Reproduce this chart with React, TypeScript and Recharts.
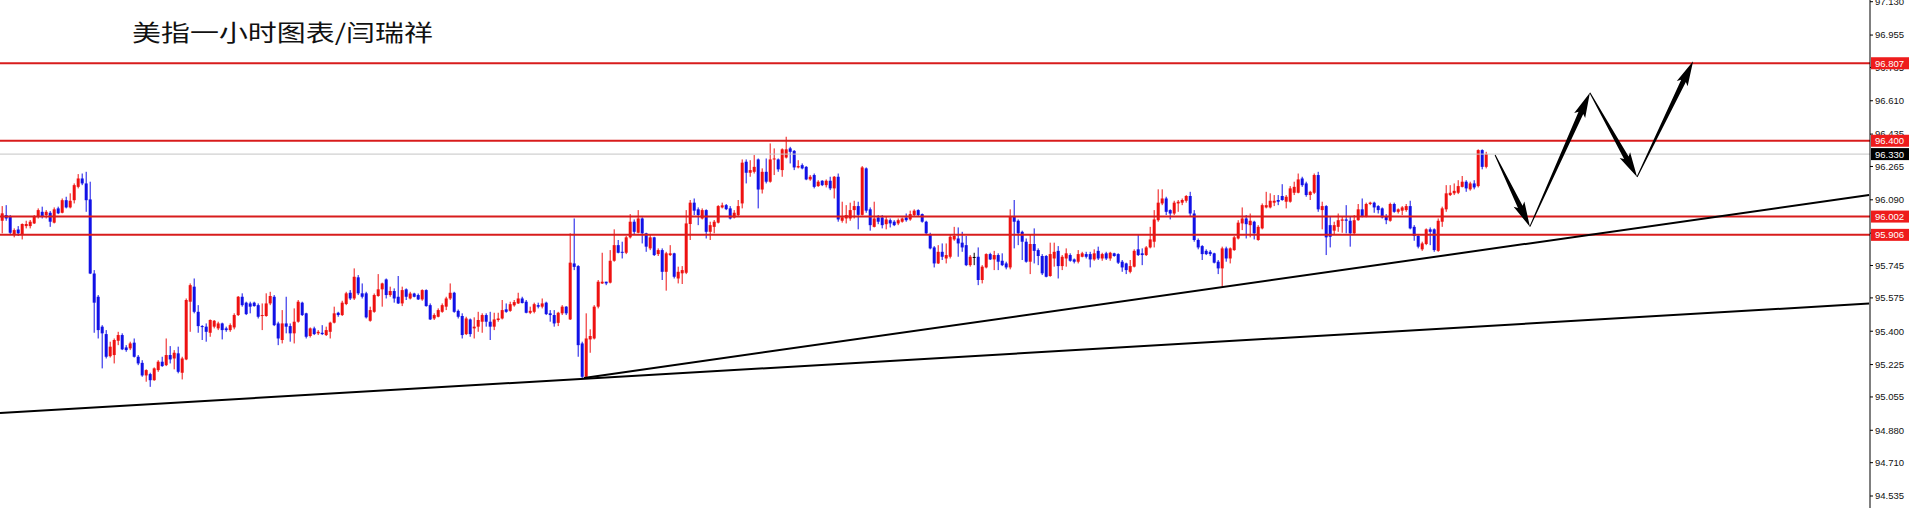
import React from "react";
import { ComposedChart, Bar, XAxis, YAxis, ReferenceLine } from "recharts";

// hourly candles (price units)
const opens = [
  95.980, 96.010, 96.004, 95.910, 95.934, 95.905, 95.952, 95.952, 95.966, 96.001,
  96.027, 96.010, 96.022, 95.970, 96.045, 96.022, 96.088, 96.050, 96.088, 96.158,
  96.202, 96.176, 96.092, 95.703, 95.581, 95.424, 95.385, 95.269, 95.275, 95.350,
  95.380, 95.315, 95.310, 95.340, 95.266, 95.234, 95.168, 95.175, 95.143, 95.196,
  95.240, 95.222, 95.275, 95.257, 95.284, 95.182, 95.252, 95.555, 95.634, 95.502,
  95.427, 95.424, 95.392, 95.424, 95.415, 95.441, 95.415, 95.406, 95.420, 95.485,
  95.581, 95.550, 95.546, 95.550, 95.537, 95.480, 95.480, 95.546, 95.581, 95.441,
  95.354, 95.441, 95.427, 95.389, 95.450, 95.550, 95.494, 95.375, 95.415, 95.389,
  95.392, 95.380, 95.397, 95.445, 95.497, 95.485, 95.543, 95.602, 95.572, 95.683,
  95.599, 95.599, 95.455, 95.502, 95.585, 95.620, 95.672, 95.590, 95.611, 95.581,
  95.546, 95.620, 95.572, 95.598, 95.590, 95.567, 95.616, 95.537, 95.467, 95.476,
  95.502, 95.529, 95.572, 95.602, 95.507, 95.480, 95.385, 95.462, 95.415, 95.424,
  95.450, 95.485, 95.450, 95.424, 95.459, 95.467, 95.515, 95.507, 95.536, 95.546,
  95.572, 95.555, 95.497, 95.502, 95.537, 95.529, 95.550, 95.494, 95.485, 95.444,
  95.494, 95.529, 95.462, 95.756, 95.742, 95.336, 95.161, 95.357, 95.362, 95.529,
  95.651, 95.660, 95.655, 95.770, 95.852, 95.817, 95.812, 95.893, 95.975, 95.917,
  95.992, 95.914, 95.835, 95.893, 95.805, 95.826, 95.712, 95.800, 95.809, 95.677,
  95.704, 95.707, 95.963, 96.075, 96.040, 95.992, 96.036, 95.922, 95.948, 95.970,
  96.050, 96.062, 96.045, 95.997, 96.010, 96.071, 96.290, 96.232, 96.237, 96.302,
  96.144, 96.237, 96.185, 96.302, 96.302, 96.246, 96.312, 96.360, 96.347, 96.260,
  96.272, 96.263, 96.197, 96.220, 96.162, 96.190, 96.167, 96.190, 96.150, 96.211,
  95.980, 95.992, 95.992, 96.036, 96.057, 96.011, 96.255, 96.040, 95.948, 95.997,
  95.997, 95.962, 95.983, 95.975, 95.966, 95.975, 95.997, 95.987, 96.010, 96.036,
  96.015, 95.975, 95.910, 95.840, 95.756, 95.817, 95.782, 95.791, 95.882, 95.887,
  95.865, 95.852, 95.747, 95.790, 95.791, 95.669, 95.735, 95.805, 95.777, 95.800,
  95.770, 95.756, 95.735, 96.005, 95.980, 95.922, 95.870, 95.765, 95.858, 95.826,
  95.795, 95.795, 95.690, 95.782, 95.822, 95.742, 95.782, 95.800, 95.777, 95.765,
  95.791, 95.805, 95.805, 95.777, 95.822, 95.782, 95.809, 95.782, 95.809, 95.805,
  95.765, 95.756, 95.712, 95.739, 95.830, 95.809, 95.800, 95.840, 95.870, 95.983,
  96.071, 96.097, 96.036, 96.018, 96.071, 96.075, 96.085, 96.110, 96.018, 95.879,
  95.847, 95.822, 95.817, 95.809, 95.765, 95.730, 95.835, 95.782, 95.826, 95.887,
  95.966, 95.992, 95.957, 95.975, 95.879, 95.940, 96.050, 96.050, 96.075, 96.089,
  96.110, 96.080, 96.080, 96.127, 96.127, 96.202, 96.176, 96.115, 96.127, 96.220,
  96.036, 96.057, 95.957, 95.928, 95.948, 95.980, 95.987, 95.980, 95.914, 95.983,
  96.040, 96.005, 96.068, 96.075, 96.057, 96.045, 96.005, 95.980, 96.068, 96.027,
  96.033, 96.036, 96.057, 95.948, 95.900, 95.830, 95.858, 95.935, 95.935, 95.822,
  95.975, 96.040, 96.115, 96.124, 96.127, 96.158, 96.185, 96.145, 96.176, 96.162,
  96.351, 96.263,
];

const highs = [
  96.057, 96.062, 96.010, 95.940, 95.952, 95.966, 95.980, 95.984, 96.010, 96.045,
  96.054, 96.036, 96.031, 96.050, 96.054, 96.097, 96.106, 96.124, 96.176, 96.225,
  96.228, 96.237, 96.185, 95.721, 95.590, 95.432, 95.406, 95.345, 95.362, 95.397,
  95.389, 95.327, 95.345, 95.362, 95.275, 95.248, 95.200, 95.182, 95.210, 95.248,
  95.266, 95.362, 95.322, 95.301, 95.319, 95.266, 95.572, 95.651, 95.677, 95.537,
  95.432, 95.441, 95.462, 95.459, 95.450, 95.445, 95.424, 95.441, 95.494, 95.585,
  95.599, 95.555, 95.555, 95.555, 95.546, 95.546, 95.599, 95.607, 95.590, 95.450,
  95.511, 95.581, 95.441, 95.520, 95.564, 95.555, 95.497, 95.420, 95.424, 95.406,
  95.432, 95.424, 95.450, 95.529, 95.502, 95.560, 95.607, 95.616, 95.730, 95.695,
  95.651, 95.607, 95.529, 95.598, 95.700, 95.655, 95.677, 95.634, 95.625, 95.690,
  95.634, 95.625, 95.607, 95.602, 95.598, 95.620, 95.620, 95.546, 95.494, 95.520,
  95.546, 95.581, 95.651, 95.607, 95.514, 95.494, 95.476, 95.467, 95.473, 95.502,
  95.494, 95.494, 95.502, 95.497, 95.497, 95.564, 95.546, 95.555, 95.564, 95.602,
  95.581, 95.564, 95.529, 95.550, 95.550, 95.572, 95.555, 95.511, 95.511, 95.502,
  95.537, 95.532, 95.914, 95.992, 95.747, 95.345, 95.494, 95.410, 95.537, 95.669,
  95.812, 95.660, 95.826, 95.935, 95.879, 95.870, 95.900, 96.015, 95.987, 96.036,
  95.998, 95.917, 95.910, 95.896, 95.835, 95.835, 95.817, 95.852, 95.812, 95.739,
  95.742, 96.036, 96.089, 96.097, 96.050, 96.045, 96.040, 95.975, 95.984, 96.062,
  96.075, 96.068, 96.057, 96.036, 96.089, 96.302, 96.302, 96.298, 96.325, 96.307,
  96.255, 96.307, 96.386, 96.360, 96.307, 96.360, 96.421, 96.368, 96.351, 96.298,
  96.281, 96.267, 96.220, 96.228, 96.193, 96.193, 96.197, 96.211, 96.215, 96.228,
  96.080, 96.062, 96.075, 96.085, 96.080, 96.267, 96.260, 96.050, 96.080, 96.010,
  96.010, 96.005, 95.992, 95.983, 95.992, 95.997, 96.018, 96.033, 96.040, 96.040,
  96.018, 95.980, 95.917, 95.847, 95.852, 95.861, 95.861, 95.905, 95.948, 95.945,
  95.922, 95.900, 95.800, 95.812, 95.840, 95.747, 95.809, 95.812, 95.822, 95.809,
  95.809, 95.765, 96.040, 96.089, 95.987, 95.928, 95.887, 95.910, 95.940, 95.835,
  95.805, 95.800, 95.865, 95.865, 95.847, 95.800, 95.835, 95.809, 95.782, 95.826,
  95.817, 95.817, 95.817, 95.830, 95.844, 95.812, 95.817, 95.817, 95.812, 95.809,
  95.774, 95.760, 95.774, 95.830, 95.910, 95.835, 95.847, 95.948, 96.036, 96.145,
  96.145, 96.106, 96.040, 96.085, 96.089, 96.097, 96.115, 96.132, 96.036, 95.887,
  95.852, 95.830, 95.826, 95.812, 95.774, 95.844, 95.844, 95.840, 95.900, 95.983,
  96.050, 96.010, 96.018, 95.980, 95.957, 96.071, 96.132, 96.124, 96.115, 96.115,
  96.172, 96.115, 96.162, 96.185, 96.228, 96.211, 96.185, 96.137, 96.228, 96.237,
  96.080, 96.062, 96.005, 95.975, 96.018, 96.001, 96.062, 96.001, 96.010, 96.068,
  96.097, 96.075, 96.080, 96.080, 96.062, 96.050, 96.015, 96.075, 96.075, 96.045,
  96.057, 96.068, 96.085, 95.957, 95.905, 95.870, 95.940, 95.945, 95.940, 95.992,
  96.054, 96.167, 96.167, 96.176, 96.193, 96.215, 96.193, 96.185, 96.193, 96.355,
  96.355, 96.342,
];

const lows = [
  95.914, 95.980, 95.905, 95.893, 95.900, 95.882, 95.940, 95.940, 95.963, 95.992,
  95.992, 95.992, 95.948, 95.966, 96.015, 96.019, 96.045, 96.045, 96.071, 96.150,
  96.167, 96.027, 95.700, 95.392, 95.362, 95.205, 95.257, 95.262, 95.231, 95.327,
  95.301, 95.292, 95.301, 95.262, 95.222, 95.161, 95.135, 95.108, 95.140, 95.187,
  95.213, 95.217, 95.231, 95.200, 95.179, 95.147, 95.248, 95.397, 95.494, 95.392,
  95.354, 95.345, 95.371, 95.415, 95.406, 95.357, 95.397, 95.397, 95.410, 95.480,
  95.529, 95.485, 95.494, 95.529, 95.467, 95.406, 95.476, 95.537, 95.427, 95.327,
  95.336, 95.389, 95.345, 95.336, 95.445, 95.480, 95.362, 95.367, 95.380, 95.380,
  95.380, 95.375, 95.362, 95.441, 95.476, 95.480, 95.537, 95.564, 95.564, 95.590,
  95.572, 95.467, 95.450, 95.497, 95.581, 95.529, 95.572, 95.581, 95.550, 95.543,
  95.532, 95.564, 95.567, 95.578, 95.564, 95.560, 95.529, 95.459, 95.459, 95.473,
  95.497, 95.511, 95.564, 95.497, 95.467, 95.362, 95.380, 95.371, 95.362, 95.397,
  95.392, 95.424, 95.354, 95.406, 95.450, 95.462, 95.497, 95.502, 95.529, 95.543,
  95.546, 95.494, 95.490, 95.494, 95.520, 95.520, 95.485, 95.450, 95.424, 95.427,
  95.485, 95.485, 95.459, 95.721, 95.266, 95.152, 95.158, 95.287, 95.357, 95.520,
  95.648, 95.642, 95.651, 95.765, 95.809, 95.782, 95.805, 95.887, 95.910, 95.914,
  95.861, 95.817, 95.826, 95.795, 95.795, 95.669, 95.613, 95.795, 95.677, 95.651,
  95.648, 95.700, 95.879, 96.010, 95.957, 95.987, 95.887, 95.879, 95.914, 95.966,
  96.045, 96.036, 95.987, 95.992, 96.005, 96.045, 96.176, 96.211, 96.228, 96.045,
  96.123, 96.176, 96.180, 96.220, 96.237, 96.211, 96.307, 96.281, 96.246, 96.255,
  96.250, 96.193, 96.190, 96.150, 96.158, 96.162, 96.155, 96.141, 96.097, 95.975,
  95.970, 95.966, 95.980, 95.992, 95.935, 96.008, 96.022, 95.928, 95.945, 95.962,
  95.940, 95.935, 95.945, 95.952, 95.957, 95.970, 95.975, 95.980, 96.005, 96.001,
  95.970, 95.910, 95.830, 95.735, 95.753, 95.774, 95.756, 95.782, 95.875, 95.791,
  95.817, 95.742, 95.739, 95.747, 95.642, 95.651, 95.730, 95.774, 95.721, 95.721,
  95.742, 95.725, 95.725, 95.835, 95.852, 95.774, 95.760, 95.700, 95.756, 95.747,
  95.695, 95.683, 95.686, 95.739, 95.677, 95.721, 95.739, 95.765, 95.756, 95.756,
  95.788, 95.782, 95.735, 95.770, 95.774, 95.770, 95.774, 95.770, 95.791, 95.753,
  95.712, 95.700, 95.704, 95.735, 95.795, 95.747, 95.795, 95.835, 95.840, 95.975,
  96.062, 96.010, 95.987, 96.010, 96.027, 96.062, 96.075, 96.005, 95.870, 95.830,
  95.774, 95.800, 95.795, 95.756, 95.700, 95.634, 95.765, 95.756, 95.822, 95.882,
  95.931, 95.887, 95.893, 95.882, 95.875, 95.935, 96.045, 96.045, 96.057, 96.062,
  96.085, 96.045, 96.075, 96.115, 96.124, 96.158, 96.106, 96.089, 96.120, 96.027,
  95.935, 95.800, 95.840, 95.910, 95.922, 95.917, 95.914, 95.844, 95.910, 95.980,
  95.998, 95.998, 96.062, 96.022, 96.018, 95.992, 95.962, 95.975, 96.022, 96.018,
  96.010, 96.027, 95.935, 95.875, 95.835, 95.822, 95.852, 95.852, 95.817, 95.817,
  95.948, 96.027, 96.110, 96.115, 96.120, 96.155, 96.132, 96.138, 96.145, 96.155,
  96.250, 96.255,
];

const closes = [
  96.019, 95.992, 95.917, 95.931, 95.914, 95.963, 95.963, 95.975, 96.004, 96.036,
  96.001, 96.027, 95.975, 96.040, 96.019, 96.088, 96.050, 96.085, 96.167, 96.202,
  96.176, 96.088, 95.703, 95.550, 95.406, 95.389, 95.266, 95.319, 95.354, 95.380,
  95.305, 95.301, 95.336, 95.266, 95.231, 95.168, 95.196, 95.143, 95.205, 95.240,
  95.217, 95.275, 95.252, 95.287, 95.187, 95.257, 95.564, 95.642, 95.502, 95.427,
  95.424, 95.397, 95.459, 95.455, 95.441, 95.406, 95.406, 95.432, 95.485, 95.581,
  95.537, 95.490, 95.529, 95.532, 95.476, 95.485, 95.546, 95.585, 95.432, 95.362,
  95.441, 95.424, 95.389, 95.450, 95.555, 95.485, 95.371, 95.415, 95.385, 95.397,
  95.385, 95.406, 95.445, 95.494, 95.485, 95.550, 95.599, 95.572, 95.686, 95.599,
  95.581, 95.473, 95.511, 95.590, 95.620, 95.651, 95.590, 95.611, 95.572, 95.546,
  95.616, 95.581, 95.598, 95.581, 95.567, 95.616, 95.532, 95.462, 95.485, 95.511,
  95.537, 95.572, 95.602, 95.502, 95.476, 95.380, 95.467, 95.385, 95.424, 95.459,
  95.485, 95.450, 95.424, 95.462, 95.467, 95.511, 95.502, 95.542, 95.553, 95.572,
  95.548, 95.497, 95.507, 95.542, 95.529, 95.546, 95.490, 95.485, 95.441, 95.497,
  95.529, 95.494, 95.760, 95.738, 95.327, 95.161, 95.362, 95.375, 95.529, 95.660,
  95.660, 95.651, 95.770, 95.852, 95.812, 95.812, 95.893, 95.975, 95.922, 95.992,
  95.914, 95.844, 95.893, 95.800, 95.826, 95.712, 95.809, 95.809, 95.686, 95.712,
  95.721, 95.966, 96.075, 96.033, 96.010, 96.036, 95.922, 95.957, 95.975, 96.057,
  96.061, 96.041, 95.992, 96.022, 96.057, 96.285, 96.232, 96.246, 96.263, 96.144,
  96.237, 96.185, 96.302, 96.307, 96.250, 96.355, 96.355, 96.342, 96.260, 96.267,
  96.255, 96.197, 96.211, 96.158, 96.185, 96.167, 96.190, 96.150, 96.211, 95.987,
  95.998, 96.010, 96.036, 96.057, 96.011, 96.260, 96.033, 95.957, 95.992, 95.975,
  95.957, 95.987, 95.966, 95.957, 95.983, 95.992, 95.983, 96.015, 96.033, 96.010,
  95.975, 95.914, 95.835, 95.756, 95.817, 95.791, 95.800, 95.896, 95.900, 95.861,
  95.840, 95.747, 95.791, 95.790, 95.669, 95.739, 95.805, 95.777, 95.800, 95.765,
  95.747, 95.735, 96.005, 95.975, 95.914, 95.870, 95.765, 95.858, 95.822, 95.795,
  95.704, 95.686, 95.805, 95.817, 95.742, 95.791, 95.809, 95.770, 95.765, 95.805,
  95.809, 95.791, 95.777, 95.809, 95.782, 95.805, 95.782, 95.812, 95.795, 95.760,
  95.735, 95.721, 95.742, 95.822, 95.800, 95.800, 95.840, 95.882, 95.987, 96.075,
  96.097, 96.027, 96.018, 96.075, 96.080, 96.089, 96.110, 96.018, 95.879, 95.840,
  95.805, 95.805, 95.805, 95.760, 95.730, 95.835, 95.782, 95.835, 95.893, 95.970,
  95.992, 95.962, 95.980, 95.914, 95.948, 96.062, 96.062, 96.085, 96.085, 96.080,
  96.089, 96.106, 96.150, 96.158, 96.197, 96.167, 96.115, 96.132, 96.220, 96.040,
  96.057, 95.893, 95.896, 95.957, 95.983, 95.987, 95.980, 95.914, 95.983, 96.040,
  96.005, 96.068, 96.075, 96.050, 96.036, 95.998, 95.983, 96.068, 96.027, 96.040,
  96.050, 96.057, 95.940, 95.900, 95.844, 95.861, 95.935, 95.922, 95.826, 95.980,
  96.045, 96.124, 96.127, 96.137, 96.162, 96.185, 96.150, 96.176, 96.155, 96.351,
  96.263, 96.330,
];

const redLevels = [96.807, 96.4, 96.002, 95.906];
const lastPrice = 96.33;
const yTicks = [
  97.13, 96.955, 96.785, 96.61, 96.435, 96.265, 96.09, 95.915,
  95.745, 95.575, 95.4, 95.225, 95.055, 94.88, 94.71, 94.535,
];

// drawn objects, in (bar index, price)
const trendLines = [
  { x1: -0.675, y1: 94.971, x2: 466.6, y2: 95.545 },
  { x1: 145.3, y1: 95.155, x2: 466.6, y2: 96.115 },
];
const arrows = [
  { x1: 373.1, y1: 96.325, x2: 381.8, y2: 95.949 },
  { x1: 381.8, y1: 95.949, x2: 396.8, y2: 96.652 },
  { x1: 396.8, y1: 96.652, x2: 408.6, y2: 96.21 },
  { x1: 408.6, y1: 96.21, x2: 422.6, y2: 96.818 },
];

const title = "美指一小时图表/闫瑞祥";

const UP = "#ee1111";
const DOWN = "#1111e6";
const LEVEL = "#d81c1c";
const AXIS_FONT = "'Liberation Sans', Arial, sans-serif";
const X_DOMAIN = [-0.675, 466.825];
const Y_DOMAIN = [94.472, 97.139];

const data = opens.map((open, i) => ({
  i,
  open,
  high: highs[i],
  low: lows[i],
  close: closes[i],
}));

const Candle = (props: any) => {
  const { x, y, width, height, payload } = props;
  if (x == null || y == null || !payload) return null;
  const { open, close, high, low } = payload;
  const top = Math.min(y, y + height);
  const h = Math.abs(height);
  const k = high > low ? h / (high - low) : 0;
  const cx = x + width / 2;
  const yO = top + (high - open) * k;
  const yC = top + (high - close) * k;
  const color = close > open ? UP : close < open ? DOWN : "#000";
  const bodyTop = Math.min(yO, yC);
  const bodyH = Math.max(1, Math.abs(yO - yC));
  return (
    <g>
      <line x1={cx} x2={cx} y1={top} y2={top + Math.max(h, 1)} stroke={color} strokeWidth={1} />
      <rect x={cx - 1.5} y={bodyTop} width={3} height={bodyH} fill={color} />
    </g>
  );
};

const ArrowShape = (props: any) => {
  const { x1, y1, x2, y2 } = props;
  const dx = x2 - x1;
  const dy = y2 - y1;
  const len = Math.hypot(dx, dy) || 1;
  const ux = dx / len;
  const uy = dy / len;
  const px = -uy;
  const py = ux;
  const headLen = 22;
  const bx = x2 - ux * headLen;
  const by = y2 - uy * headLen;
  const pts = [
    [x1 + px * 0.5, y1 + py * 0.5],
    [bx + px * 2.6, by + py * 2.6],
    [bx - ux * 3 + px * 6, by - uy * 3 + py * 6],
    [x2, y2],
    [bx - ux * 3 - px * 6, by - uy * 3 - py * 6],
    [bx - px * 2.6, by - py * 2.6],
    [x1 - px * 0.5, y1 - py * 0.5],
  ];
  return <polygon points={pts.map((p) => p.join(",")).join(" ")} fill="#000" />;
};

const PriceTag = (props: any) => {
  const { viewBox, text, fill } = props;
  if (!viewBox) return null;
  const left = viewBox.x + viewBox.width + 1;
  return (
    <g>
      <rect x={left} y={viewBox.y - 6} width={40} height={12} fill={fill} />
      <text
        x={left + 4}
        y={viewBox.y}
        dy="0.36em"
        fill="#fff"
        fontSize={9.5}
        fontFamily={AXIS_FONT}
      >
        {text}
      </text>
    </g>
  );
};

export default function App() {
  return (
    <div style={{ position: "absolute", left: 0, top: 0, width: 1909, height: 508, background: "#fff" }}>
      <ComposedChart
        width={1909}
        height={508}
        data={data}
        margin={{ top: 0, right: 0, bottom: 0, left: 0 }}
      >
        <XAxis dataKey="i" type="number" domain={X_DOMAIN} allowDataOverflow hide />
        <YAxis
          orientation="right"
          width={39}
          domain={Y_DOMAIN}
          allowDataOverflow
          ticks={yTicks}
          interval={0}
          tickSize={3}
          tickMargin={2}
          tickFormatter={(v: number) => v.toFixed(3)}
          axisLine={{ stroke: "#000" }}
          tickLine={{ stroke: "#000" }}
          tick={{ fill: "#111", fontSize: 9.5, fontFamily: AXIS_FONT }}
        />
        <ReferenceLine y={lastPrice} stroke="#c4c4c4" strokeWidth={1} />
        {redLevels.map((v) => (
          <ReferenceLine key={v} y={v} stroke={LEVEL} strokeWidth={2} />
        ))}
        {trendLines.map((t, k) => (
          <ReferenceLine
            key={"t" + k}
            segment={[{ x: t.x1, y: t.y1 }, { x: t.x2, y: t.y2 }]}
            stroke="#000"
            strokeWidth={2}
            ifOverflow="visible"
          />
        ))}
        <Bar
          dataKey={(d: any) => [d.low, d.high]}
          barSize={3}
          shape={<Candle />}
          isAnimationActive={false}
        />
        {arrows.map((a, k) => (
          <ReferenceLine
            key={"a" + k}
            segment={[{ x: a.x1, y: a.y1 }, { x: a.x2, y: a.y2 }]}
            ifOverflow="visible"
            shape={(p: any) => <ArrowShape {...p} />}
          />
        ))}
      </ComposedChart>

      {/* price tags sit above the axis tick labels */}
      <div style={{ position: "absolute", left: 0, top: 0, pointerEvents: "none" }}>
        <ComposedChart
          width={1909}
          height={508}
          data={data}
          margin={{ top: 0, right: 39, bottom: 0, left: 0 }}
        >
          <XAxis dataKey="i" type="number" domain={X_DOMAIN} allowDataOverflow hide />
          <YAxis domain={Y_DOMAIN} allowDataOverflow hide />
          <ReferenceLine
            y={lastPrice}
            stroke="none"
            label={<PriceTag text={lastPrice.toFixed(3)} fill="#000" />}
          />
          {redLevels.map((v) => (
            <ReferenceLine
              key={v}
              y={v}
              stroke="none"
              label={<PriceTag text={v.toFixed(3)} fill="#ee1c1c" />}
            />
          ))}
        </ComposedChart>
      </div>

      <svg
        width={1909}
        height={60}
        style={{ position: "absolute", left: 0, top: 0, pointerEvents: "none" }}
      >
        <text
          x={132}
          y={41}
          fontSize={23}
          fontFamily="'Noto Sans CJK SC', sans-serif"
          fill="#111"
          textLength={301}
          lengthAdjust="spacingAndGlyphs"
        >
          {title}
        </text>
      </svg>
    </div>
  );
}
